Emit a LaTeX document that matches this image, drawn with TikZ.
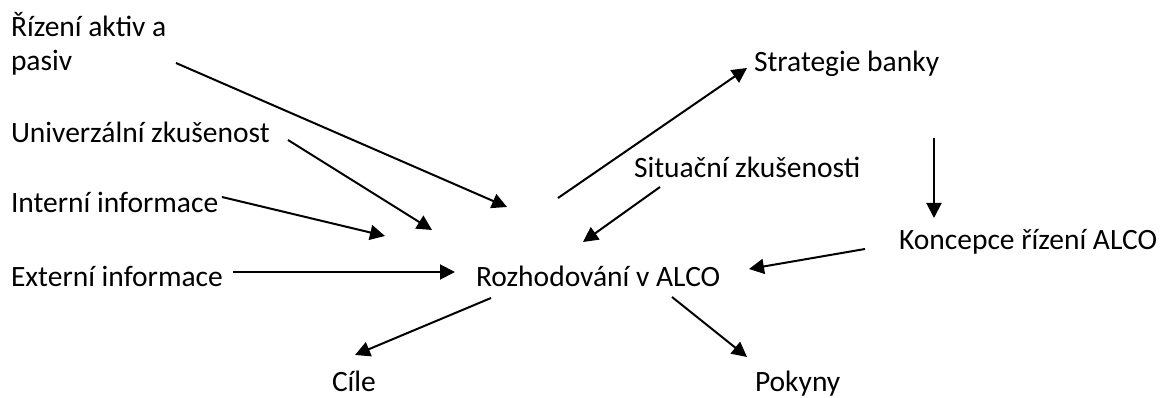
\documentclass[tikz,border=0pt]{standalone}
\usepackage{fontspec}
\setmainfont{Carlito}
\usetikzlibrary{arrows.meta}
\begin{document}
\begin{tikzpicture}[
        > = {Triangle[length = 15pt, width = 15pt]},
        line width = 2pt,
        x = 1pt, y = -1pt,
        txt/.style = {anchor = base west, inner sep = 0pt, align = left, font = \fontsize{29.5}{34.5}\selectfont}
    ]
        \useasboundingbox (0,0) rectangle (1168,398);
        \node[txt] (rap) at (10,71) {Řízení aktiv a\\pasiv};
        \node[txt] (univ) at (10,143) {Univerzální zkušenost};
        \node[txt] (intern) at (10,213) {Interní informace};
        \node[txt] (extern) at (10,287) {Externí informace};
        \node[txt] (rozh) at (475,287) {Rozhodování v ALCO};
        \node[txt] (strat) at (753,72) {Strategie banky};
        \node[txt] (sit) at (633,178) {Situační zkušenosti};
        \node[txt] (konc) at (898,250) {Koncepce řízení ALCO};
        \node[txt] (cile) at (331,391) {Cíle};
        \node[txt] (pokyny) at (754,391) {Pokyny};
        \coordinate (rap-a) at (176,63);    \coordinate (rap-b) at (507,207);
        \coordinate (univ-a) at (288,140);  \coordinate (univ-b) at (432,230);
        \coordinate (intern-a) at (222,197); \coordinate (intern-b) at (385,236);
        \coordinate (extern-a) at (233,272); \coordinate (extern-b) at (455,272);
        \coordinate (strat-a) at (558,198); \coordinate (strat-b) at (747,68);
        \coordinate (sit-a) at (660,187);   \coordinate (sit-b) at (583,242);
        \coordinate (strat-c) at (934,138); \coordinate (konc-a) at (934,218);
        \coordinate (konc-b) at (865,249);  \coordinate (konc-c) at (749,269);
        \coordinate (cile-a) at (491,298);  \coordinate (cile-b) at (355,355);
        \coordinate (pokyny-a) at (672,297); \coordinate (pokyny-b) at (747,357);
        \draw[->] (rap-a) -- (rap-b);
        \draw[->] (univ-a) -- (univ-b);
        \draw[->] (intern-a) -- (intern-b);
        \draw[->] (extern-a) -- (extern-b);
        \draw[->] (strat-a) -- (strat-b);
        \draw[->] (sit-a) -- (sit-b);
        \draw[->] (strat-c) -- (konc-a);
        \draw[->] (konc-b) -- (konc-c);
        \draw[->] (cile-a) -- (cile-b);
        \draw[->] (pokyny-a) -- (pokyny-b);
    \end{tikzpicture}
\end{document}
